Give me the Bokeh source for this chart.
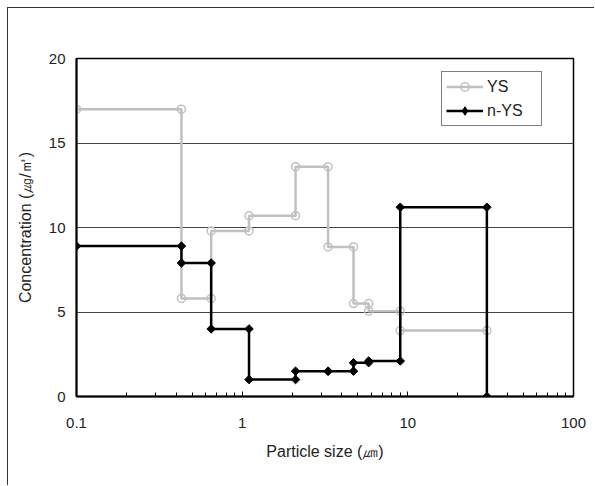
from bokeh.plotting import figure
from bokeh.models import Range1d, FixedTicker, Legend
from bokeh.embed import file_html
from bokeh.resources import INLINE
import numpy as np

# ---- data ----
size_edges = [0.1, 0.43, 0.65, 1.1, 2.1, 3.3, 4.7, 5.8, 9.0, 30.0]
ys_values = [17.0, 5.8, 9.8, 10.7, 13.6, 8.85, 5.5, 5.05, 3.9]
nys_values = [8.9, 7.9, 4.0, 1.0, 1.5, 1.5, 2.0, 2.1, 11.2]
nys_end = 0.0
x_ticks = [0.1, 1, 10, 100]
x_tick_labels = ["0.1", "1", "10", "100"]
y_ticks = [0, 5, 10, 15, 20]


def step_points(edges, vals):
    xs, ys = [], []
    for i, v in enumerate(vals):
        xs += [edges[i], edges[i + 1]]
        ys += [v, v]
    return xs, ys


ys_x, ys_y = step_points(size_edges, ys_values)
nys_x, nys_y = step_points(size_edges, nys_values)
nys_x.append(size_edges[-1])
nys_y.append(nys_end)

FONT = "Liberation Sans"

p = figure(width=587, height=478, x_axis_type="log",
           x_range=Range1d(0.1, 100), y_range=Range1d(0, 20),
           output_backend="svg", toolbar_location=None,
           min_border_left=68, min_border_right=22,
           min_border_top=50, min_border_bottom=90)
p.styles = {"border-left": "1px solid #333333", "border-top": "1px solid #333333",
            "margin-left": "7px", "margin-top": "7px"}

p.outline_line_color = "black"
p.outline_line_width = 1.5
p.background_fill_color = "white"
p.border_fill_color = "white"

# x axis
minor = [k * 10.0 ** d for d in (-1, 0, 1) for k in range(2, 10)]
p.xaxis.ticker = FixedTicker(ticks=x_ticks, minor_ticks=minor)
p.xaxis.major_label_overrides = {t: l for t, l in zip(x_ticks, x_tick_labels)}
p.xaxis.axis_label = "Particle size (㎛)"
p.xaxis.axis_line_width = 2
p.xaxis.axis_line_color = "black"
p.xaxis.major_tick_in = 5
p.xaxis.major_tick_out = 0
p.xaxis.minor_tick_in = 4
p.xaxis.minor_tick_out = 0
p.xaxis.major_tick_line_color = "black"
p.xaxis.minor_tick_line_color = "black"
p.xaxis.major_label_standoff = 21
p.xaxis.axis_label_standoff = 12

# y axis
p.yaxis.ticker = FixedTicker(ticks=y_ticks)
p.yaxis.axis_label = "Concentration (㎍/㎥)"
p.yaxis.axis_line_width = 2
p.yaxis.axis_line_color = "black"
p.yaxis.major_tick_in = 0
p.yaxis.major_tick_out = 0
p.yaxis.minor_tick_line_color = None
p.yaxis.major_label_standoff = 11
p.yaxis.axis_label_standoff = 12

for ax in (p.xaxis, p.yaxis):
    ax.major_label_text_font = FONT
    ax.major_label_text_font_size = "15px"
    ax.major_label_text_color = "#222222"
    ax.axis_label_text_font = FONT
    ax.axis_label_text_font_size = "16px"
    ax.axis_label_text_font_style = "normal"
    ax.axis_label_text_color = "#222222"

p.xgrid.visible = False
p.ygrid.ticker = FixedTicker(ticks=y_ticks)
p.ygrid.grid_line_color = "#444444"
p.ygrid.grid_line_width = 1

# series
l1 = p.line(ys_x, ys_y, line_color="#c0c0c0", line_width=2.5)
m1 = p.scatter(ys_x, ys_y, marker="circle", size=8, fill_color=None,
               line_color="#c0c0c0", line_width=1.5)
l2 = p.line(nys_x, nys_y, line_color="black", line_width=2.5)
m2 = p.scatter(nys_x, nys_y, marker="square", angle=np.pi / 4, size=6,
               fill_color="black", line_color="black")
# legend-only marker (legend does not rotate glyphs); its one point lies off the ranges
m2_leg = p.scatter(x=[0.001], y=[-100], marker="diamond", size=10,
                   fill_color="black", line_color="black")

legend = Legend(items=[("YS", [l1, m1]), ("n-YS", [l2, m2_leg])],
                location=(365, 270))
legend.border_line_color = "black"
legend.border_line_width = 1
legend.background_fill_color = "white"
legend.background_fill_alpha = 1
legend.label_text_font = FONT
legend.label_text_font_size = "16px"
legend.label_text_color = "#222222"
legend.glyph_width = 37
legend.glyph_height = 21
legend.label_height = 21
legend.label_width = 50
legend.label_standoff = 4
legend.spacing = 3
legend.padding = 4
legend.margin = 0
p.add_layout(legend)

open("out.html", "w").write(file_html(p, INLINE))
